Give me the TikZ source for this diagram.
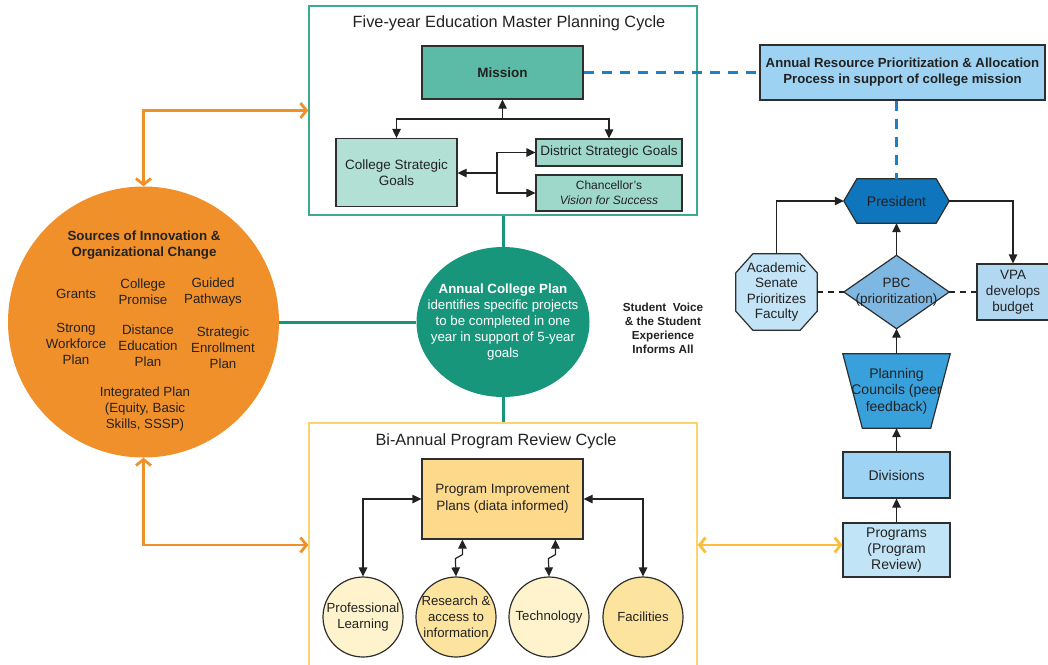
\documentclass[tikz,border=0pt]{standalone}
\usepackage{fontspec}
\setmainfont{Liberation Sans}
\usetikzlibrary{arrows.meta,calc,positioning,shapes.geometric,backgrounds}

\definecolor{ink}{HTML}{222222}
\definecolor{boxline}{HTML}{2E2E2E}
\definecolor{tealline}{HTML}{3DAA8F}
\definecolor{missionc}{HTML}{5CBBA6}
\definecolor{collegec}{HTML}{B2E0D5}
\definecolor{districtc}{HTML}{9ED8CA}
\definecolor{acpc}{HTML}{18967B}
\definecolor{orangec}{HTML}{F0902A}
\definecolor{bluedashc}{HTML}{1E7FC6}
\definecolor{annualc}{HTML}{9DD2F2}
\definecolor{presidentc}{HTML}{0F75BC}
\definecolor{pbcc}{HTML}{7FB7E3}
\definecolor{senatec}{HTML}{C3E4F7}
\definecolor{vpac}{HTML}{B2D7F1}
\definecolor{councilc}{HTML}{38A1DC}
\definecolor{divisionc}{HTML}{9FD3F3}
\definecolor{programc}{HTML}{C2E4F7}
\definecolor{yellowline}{HTML}{FCD36D}
\definecolor{yellowarr}{HTML}{FBBD3A}
\definecolor{pipc}{HTML}{FDD98C}
\definecolor{lightring}{HTML}{FEF3CC}
\definecolor{darkring}{HTML}{FDE49E}

\begin{document}
\begin{tikzpicture}
    [x=1pt, y=-1pt,
      frame/.style={
        rectangle,
        line width=1.5pt,
        minimum width=388pt
      },
      titletext/.style={
        text=ink,
        font=\fontsize{16.3}{19}\selectfont
      },
      block/.style={
        rectangle,
        draw=boxline,
        line width=1.2pt,
        align=center,
        text=ink,
        inner sep=2pt,
        font=\fontsize{13.5}{16}\selectfont
      },
      shapetext/.style={
        rectangle,
        align=center,
        text=ink,
        inner sep=0pt,
        font=\fontsize{13.5}{15.5}\selectfont
      },
      outline/.style={draw=boxline, line width=1.2pt},
      ring/.style={
        circle,
        draw=boxline,
        line width=1.2pt,
        minimum size=80pt,
        inner sep=0pt
      },
      ringlabel/.style={align=center, text=ink, font=\fontsize{13.2}{16}\selectfont},
      srctext/.style={align=center, text=ink, font=\fontsize{13.3}{16}\selectfont},
      acptext/.style={align=center, text=white, font=\fontsize{13.3}{16}\selectfont},
      arr/.style={draw=ink, line width=1.2pt, -{Triangle[length=9pt,width=8.5pt]}},
      dblarr/.style={draw=ink, line width=1.2pt, {Triangle[length=9pt,width=8.5pt]}-{Triangle[length=9pt,width=8.5pt]}},
      blackdash/.style={draw=ink, line width=1.2pt, dash pattern=on 6pt off 5pt},
      bluedash/.style={draw=bluedashc, line width=2.5pt, dash pattern=on 10pt off 8pt},
      greenline/.style={draw=acpc, line width=3pt},
      orangearrow/.style={draw=orangec, line width=2.8pt, {Straight Barb[length=6pt,width=15pt]}-{Straight Barb[length=6pt,width=15pt]}},
      yellowarrow/.style={draw=yellowarr, line width=2.8pt, {Straight Barb[length=6pt,width=15pt]}-{Straight Barb[length=6pt,width=15pt]}}
    ]
    \useasboundingbox (0,0) rectangle (1048,664);

    % five-year cycle
    \node[frame, draw=tealline, minimum height=209pt] (fiveyear) at (503,110.5) {};
    \node[titletext] (fivetitle) at (509,23) {Five-year Education Master Planning Cycle};
    \node[block, fill=missionc, minimum width=161pt, minimum height=53pt, font=\fontsize{13.5}{16}\selectfont\bfseries] (mission) at (502.5,72.5) {Mission};
    \node[block, fill=collegec, minimum width=121pt, minimum height=68pt] (college) at (396.5,172.5) {College Strategic\\Goals};
    \node[block, fill=districtc, minimum width=146pt, minimum height=27pt] (district) at (609,152.5) {District Strategic Goals};
    \node[block, fill=districtc, minimum width=146pt, minimum height=36pt, font=\fontsize{12}{15}\selectfont] (chancellor) at (609,193) {Chancellor's\\\textit{Vision for Success}};
    \coordinate (msplit) at (502.5,119);
    \coordinate (csplit) at (497,173);
    \draw[arr] (msplit) -- (mission.south);
    \draw[dblarr] (college.north) |- (msplit) -| (district.north);
    \draw[arr] (csplit) -- (csplit -| college.east);
    \draw[dblarr] (district.west) -| (csplit) |- (chancellor.west);

    % resource allocation
    \node[block, fill=annualc, minimum width=285pt, minimum height=55pt, font=\fontsize{13.2}{16}\selectfont\bfseries] (annual) at (902.5,72.5) {Annual Resource Prioritization \& Allocation\\Process in support of college mission};
    \draw[bluedash] (mission.east) -- (annual.west);
    \node[shapetext, minimum width=105pt, minimum height=44pt, font=\fontsize{14}{16}\selectfont] (president) at (896.5,201) {President};
    \draw[bluedash] (annual.south -| president.north) -- (president.north);
    \node[shapetext, minimum width=81pt, minimum height=76pt] (senate) at (776.5,292) {Academic\\Senate\\Prioritizes\\Faculty};
    \node[shapetext, minimum width=105pt, minimum height=73pt] (pbc) at (896.5,292) {PBC\\(prioritization)};
    \node[block, fill=vpac, minimum width=72pt, minimum height=56pt] (vpa) at (1013,292) {VPA\\develops\\budget};
    \node[shapetext, minimum width=107pt, minimum height=74pt, font=\fontsize{14}{16.5}\selectfont] (councils) at (896.5,391) {Planning\\Councils (peer\\feedback)};
    \node[block, fill=divisionc, minimum width=107pt, minimum height=46pt, font=\fontsize{14}{16}\selectfont] (divisions) at (896.5,475) {Divisions};
    \node[block, fill=programc, minimum width=107pt, minimum height=54pt, font=\fontsize{14}{16}\selectfont] (programs) at (896.5,550) {Programs\\(Program\\Review)};

    \begin{scope}[on background layer]
      \draw[outline, fill=presidentc] (president.west) -- ($(president.north west)+(13,0)$) -- ($(president.north east)+(-13,0)$)
        -- (president.east) -- ($(president.south east)+(-13,0)$) -- ($(president.south west)+(13,0)$) -- cycle;
      \draw[outline, fill=senatec] ($(senate.north west)+(17,0)$) -- ($(senate.north east)+(-17,0)$) -- ($(senate.north east)+(0,19)$)
        -- ($(senate.south east)+(0,-19)$) -- ($(senate.south east)+(-17,0)$) -- ($(senate.south west)+(17,0)$)
        -- ($(senate.south west)+(0,-19)$) -- ($(senate.north west)+(0,19)$) -- cycle;
      \draw[outline, fill=pbcc] (pbc.west) -- (pbc.north) -- (pbc.east) -- (pbc.south) -- cycle;
      \draw[outline, fill=councilc] (councils.north west) -- (councils.north east) -- ($(councils.south east)+(-19.5,0)$)
        -- ($(councils.south west)+(19.5,0)$) -- cycle;
    \end{scope}

    \draw[arr] (senate.north) |- (president.west);
    \draw[arr] (president.east) -| (vpa.north);
    \draw[arr] (pbc.north) -- (president.south);
    \draw[blackdash] (senate.east) -- (pbc.west);
    \draw[blackdash] (pbc.east) -- (vpa.west);
    \draw[arr] (councils.north) -- (pbc.south);
    \draw[arr] (divisions.north) -- (councils.south);
    \draw[arr] (programs.north) -- (divisions.south);

    % program review cycle
    \node[frame, draw=yellowline, minimum height=244pt] (review) at (503,545) {};
    \node[titletext] (reviewtitle) at (496,441) {Bi-Annual Program Review Cycle};
    \node[block, fill=pipc, minimum width=161pt, minimum height=80pt, font=\fontsize{13.5}{17}\selectfont] (pip) at (502.5,499) {Program Improvement\\Plans (diata informed)};
    \node[ring, fill=lightring, label={[ringlabel]center:{Professional\\Learning}}] (learning) at (363,617) {};
    \node[ring, fill=darkring, label={[ringlabel]center:{Research \&\\access to\\information}}] (research) at (456,617) {};
    \node[ring, fill=lightring, label={[ringlabel]center:{Technology}}] (technology) at (549,617) {};
    \node[ring, fill=darkring, label={[ringlabel]center:{Facilities}}] (facilities) at (643,617) {};
    \draw[dblarr] (pip.west) -| (learning.north);
    \draw[dblarr] (pip.east) -| (facilities.north);
    \draw[dblarr] ($(pip.south west)+(41,0)$) -- ++(0,15) -- ++(-7,4) -- (research.north);
    \draw[dblarr] ($(pip.south west)+(134,0)$) -- ++(0,15) -- ++(-7,4) -- (technology.north);
    \draw[yellowarrow] (review.east) -- (review.east -| programs.west);

    % annual college plan
    \node[ellipse, fill=acpc, minimum width=173pt, minimum height=150pt, inner sep=0pt,
      label={[acptext]center:{\textbf{Annual College Plan}\\identifies specific projects\\to be completed in one\\year in support of 5-year\\goals}}] (acp) at (503,322) {};
    \node[align=center, text=ink, font=\fontsize{11.7}{14}\selectfont\bfseries] (voice) at (663,328) {Student~ Voice\\\& the Student\\Experience\\Informs All};

    % sources of innovation
    \node[circle, fill=orangec, minimum size=271pt, inner sep=0pt] (sources) at (143.5,322) {};
    \node[srctext, font=\fontsize{13.3}{16}\selectfont\bfseries] (srchead) at (144,245) {Sources of Innovation \&\\Organizational Change};
    \node[srctext] (grants) at (76,294) {Grants};
    \node[srctext] (promise) at (143,292) {College\\Promise};
    \node[srctext] (pathways) at (213,292) {Guided\\Pathways};
    \node[srctext] (workforce) at (76,344) {Strong\\Workforce\\Plan};
    \node[srctext] (distance) at (148,346) {Distance\\Education\\Plan};
    \node[srctext] (enrollment) at (223,348) {Strategic\\Enrollment\\Plan};
    \node[srctext] (integrated) at (145,409) {Integrated Plan\\(Equity, Basic\\Skills, SSSP)};

    \draw[greenline] (fiveyear.south) -- (acp.north);
    \draw[greenline] (acp.south) -- (review.north);
    \draw[greenline] (sources.east) -- (acp.west);
    \draw[orangearrow] (sources.north) |- (fiveyear.west);
    \draw[orangearrow] (sources.south) |- (review.west);
\end{tikzpicture}
\end{document}
